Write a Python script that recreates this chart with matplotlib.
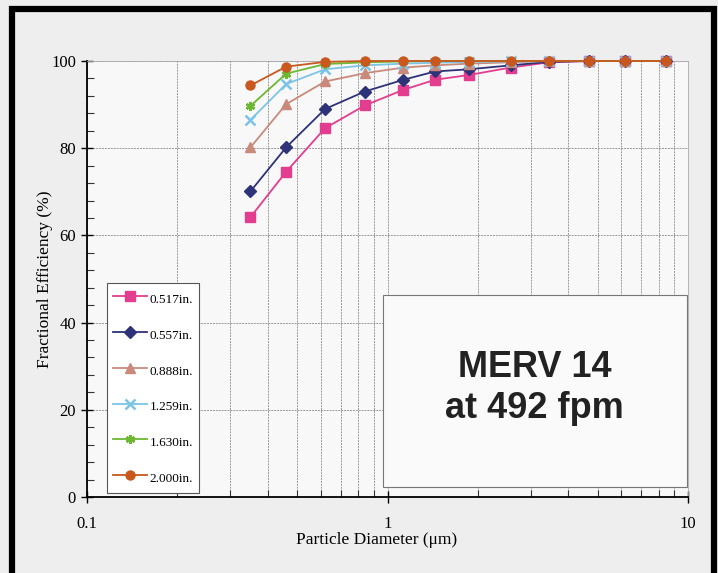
import matplotlib.pyplot as plt
from matplotlib.patches import Rectangle
from matplotlib.ticker import MultipleLocator, LogLocator, FixedLocator, NullFormatter

# particle diameter (um)
diam = [0.35, 0.46, 0.62, 0.84, 1.13, 1.44, 1.87, 2.57, 3.45, 4.7, 6.17, 8.45]

# fractional efficiency (%) for each thickness
eff_0517 = [64.2, 74.6, 84.6, 89.8, 93.4, 95.7, 96.8, 98.5, 99.7, 100, 100, 100]
eff_0557 = [70.1, 80.2, 89.0, 93.0, 95.7, 97.6, 98.1, 99.0, 99.8, 100, 100, 100]
eff_0888 = [80.2, 90.1, 95.3, 97.2, 98.5, 99.0, 99.4, 99.7, 100, 100, 100, 100]
eff_1259 = [86.5, 94.7, 98.1, 99.0, 99.4, 99.6, 99.8, 99.9, 100, 100, 100, 100]
eff_1630 = [89.7, 97.1, 99.3, 99.7, 99.9, 100, 100, 100, 100, 100, 100, 100]
eff_2000 = [94.4, 98.7, 99.8, 100, 100, 100, 100, 100, 100, 100, 100, 100]

labels = ['0.517in.', '0.557in.', '0.888in.', '1.259in.', '1.630in.', '2.000in.']
series = [eff_0517, eff_0557, eff_0888, eff_1259, eff_1630, eff_2000]
colors = ['#e23d8e', '#2e3278', '#c98a7c', '#7cc4e6', '#6cb832', '#c8581e']
markers = ['s', 'D', '^', 'x', (6, 2, 0), 'o']

serif = ['Liberation Serif', 'DejaVu Serif']

fig = plt.figure(figsize=(7.18, 5.73), dpi=100, facecolor='#eeeeee')
ax = fig.add_axes([87/718, 1 - 497/573, 601/718, 436/573])
ax.set_facecolor('#f8f8f8')

for y, lab, c, m in zip(series, labels, colors, markers):
    mew = 1.8 if m in ('x', (6, 2, 0)) else 1.0
    ax.plot(diam, y, color=c, lw=1.3, marker=m, ms=6.5, mew=mew,
            mfc=c, mec=c, label=lab, zorder=3, clip_on=False)

ax.set_xscale('log')
ax.set_xlim(0.1, 10)
ax.set_ylim(0, 100)
ax.xaxis.set_major_locator(FixedLocator([0.1, 1, 10]))
ax.xaxis.set_major_formatter(plt.FuncFormatter(lambda v, p: '%g' % v))
ax.xaxis.set_minor_locator(LogLocator(base=10, subs=range(2, 10)))
ax.xaxis.set_minor_formatter(NullFormatter())
ax.yaxis.set_major_locator(MultipleLocator(20))
ax.yaxis.set_minor_locator(MultipleLocator(4))

ax.grid(which='both', axis='x', color='#999999', lw=0.7, ls=(0, (2, 1)))
ax.grid(which='major', axis='y', color='#999999', lw=0.7, ls=(0, (2, 1)))

ax.tick_params(which='major', direction='inout', length=8, width=1, color='black')
ax.tick_params(which='minor', direction='in', length=5, width=0.8, color='#333333')
ax.tick_params(axis='x', which='major', pad=10)
ax.tick_params(axis='y', which='major', pad=4)
for t in ax.get_xticklabels() + ax.get_yticklabels():
    t.set_family(serif)
    t.set_fontsize(12)

for s in ['left', 'bottom']:
    ax.spines[s].set_color('black')
    ax.spines[s].set_linewidth(1.3)
for s in ['top', 'right']:
    ax.spines[s].set_color('#aaaaaa')
    ax.spines[s].set_linewidth(0.6)

ax.set_xlabel('Particle Diameter (\u03bcm)', family=serif, fontsize=12.5)
ax.set_ylabel('Fractional Efficiency (%)', family=serif, fontsize=12.5)
ax.xaxis.set_label_coords(0.482, -0.08)
ax.yaxis.set_label_coords(-0.057, 0.5)

leg = ax.legend(loc='lower left', bbox_to_anchor=(0.033, 0.009), prop={'family': serif, 'size': 9.5},
                labelspacing=1.3, handleheight=1.8, handlelength=2.6, handletextpad=0.2,
                borderpad=0.45, fancybox=False, framealpha=1, edgecolor='#555555', borderaxespad=0)
leg.get_frame().set_linewidth(0.8)
leg.set_zorder(5)

# annotation box
ax.add_patch(Rectangle((0.4925, 0.023), 0.5055, 0.44, transform=ax.transAxes,
                       facecolor='#fafafa', edgecolor='#777777', lw=0.8, zorder=4))
ax.text(0.745, 0.25, 'MERV 14\nat 492 fpm', transform=ax.transAxes, ha='center', va='center',
        family=['Liberation Sans', 'DejaVu Sans'], fontweight='bold', fontsize=26,
        color='#222222', linespacing=1.25, zorder=6)

# scanned page frame
fig.patches.append(Rectangle((12/718, -0.05), 702/718, 1.05 - 9.5/573, transform=fig.transFigure,
                             fill=False, edgecolor='black', lw=4.5, zorder=10))

fig.savefig('out.png', dpi=100, facecolor=fig.get_facecolor())
